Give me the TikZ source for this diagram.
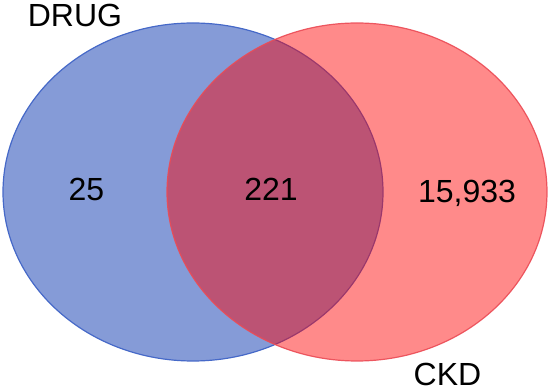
\documentclass[tikz,border=0pt]{standalone}
\usepackage{fontspec}
\setmainfont{Liberation Sans}
\usetikzlibrary{positioning}

\definecolor{drugfill}{RGB}{52,88,188}
\definecolor{drugline}{RGB}{70,105,200}
\definecolor{ckdfill}{RGB}{255,0,0}
\definecolor{ckdline}{RGB}{235,75,85}

\begin{document}
\begin{tikzpicture}[
    x=1pt, y=-1pt,
    drugset/.style={fill=drugfill, fill opacity=0.6, draw=drugline, line width=1.2pt},
    ckdset/.style={fill=ckdfill, fill opacity=0.46, draw=ckdline, draw opacity=0.9, line width=1.2pt},
    count/.style={font=\fontsize{32}{38}\selectfont, anchor=base, inner sep=0pt}
]
\useasboundingbox (0,0) rectangle (550,390);

% Sets
\draw[drugset] (193,192) ellipse [x radius=190, y radius=169];
\draw[ckdset] (357,192) ellipse [x radius=190, y radius=169];

% Set names
\node[count] (drugName) at (75,27) {DRUG};
\node[count] (ckdName) at (447.5,385.5) {CKD};

% Counts
\node[count] (onlyDrug) at (86.5,201) {25};
\node[count] (both) at (271,201) {221};
\node[count] (onlyCkd) at (467,203) {15,933};

\end{tikzpicture}
\end{document}
